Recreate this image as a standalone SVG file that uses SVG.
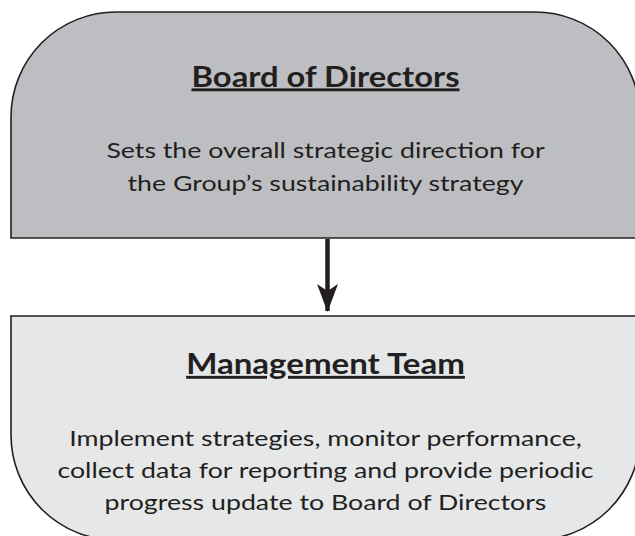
<svg xmlns="http://www.w3.org/2000/svg" width="635" height="536" viewBox="0 0 635 536">
<style>
.box{stroke:#231f20;stroke-width:1.6}
.title{font-family:Lato,"Liberation Sans",sans-serif;font-weight:bold;font-size:29px;fill:#231f20;text-anchor:middle;text-decoration:underline}
.body{font-family:Lato,"Liberation Sans",sans-serif;font-size:22px;fill:#231f20;text-anchor:middle}
</style>
<defs>
<marker id="ah" viewBox="0 0 28 21" refX="27" refY="10.5" markerWidth="28" markerHeight="21" markerUnits="userSpaceOnUse" orient="auto">
<path d="M0,0 L7,10.5 L0,21 L28,10.5 Z" fill="#231f20"/>
</marker>
</defs>
<rect width="635" height="536" fill="#ffffff"/>
<g id="board">
<path class="box" fill="#bdbec2" d="M11,238 V117 A105,105 0 0 1 116,12 H535 A105,105 0 0 1 640,117 V238 Z"/>
<text class="title" transform="translate(325.5,86.5) scale(1.13,1)">Board of Directors</text>
<text class="body" transform="translate(325.5,158) scale(1.215,1)">Sets the overall strategic direction for</text>
<text class="body" transform="translate(325.5,190.5) scale(1.215,1)">the Group’s sustainability strategy</text>
</g>
<g id="management">
<path class="box" fill="#e6e7e8" d="M11,316 H640 V435 A105,105 0 0 1 535,540 H116 A105,105 0 0 1 11,435 Z"/>
<text class="title" transform="translate(325.5,374) scale(1.14,1)">Management Team</text>
<text class="body" transform="translate(325.5,446) scale(1.215,1)">Implement strategies, monitor performance,</text>
<text class="body" transform="translate(325.5,478) scale(1.215,1)">collect data for reporting and provide periodic</text>
<text class="body" transform="translate(325.5,510) scale(1.215,1)">progress update to Board of Directors</text>
</g>
<g id="connectors">
<line x1="327.5" y1="239" x2="327.5" y2="311" stroke="#231f20" stroke-width="4.5" marker-end="url(#ah)"/>
</g>
</svg>
